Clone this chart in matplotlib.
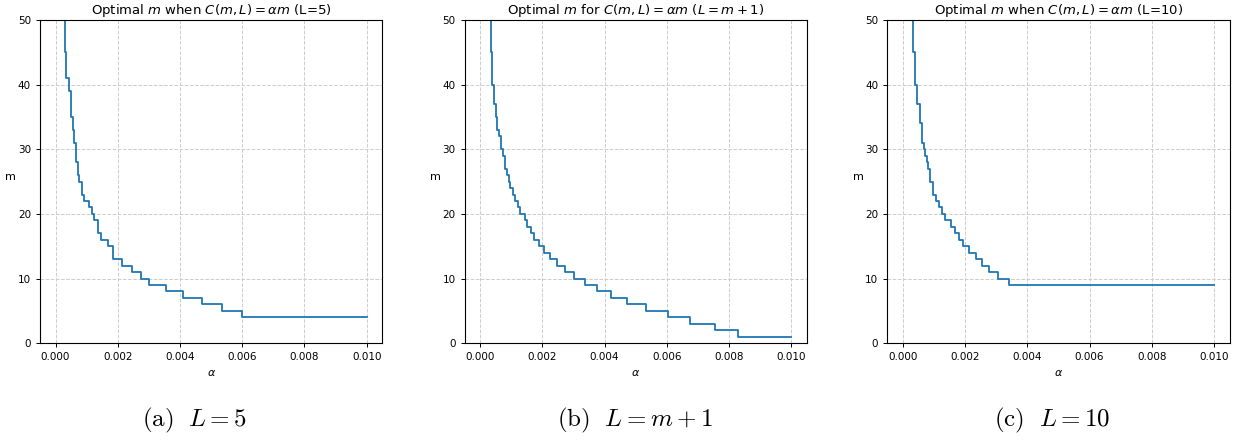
import numpy as np
import matplotlib
matplotlib.use('Agg')
import matplotlib.pyplot as plt

### step data: alpha where each level of m starts
alpha_a = [0.0, 0.00025, 0.00029, 0.00033, 0.00044, 0.00050, 0.00055, 0.00061, 0.00066, 0.00071,
           0.00076, 0.00085, 0.00093, 0.00108, 0.00117, 0.00125, 0.00136, 0.00146, 0.00168,
           0.00186, 0.00215, 0.00245, 0.00275, 0.00302, 0.00354, 0.00409, 0.00470, 0.00534, 0.00600]
m_a = [60, 50, 45, 41, 39, 35, 33, 31, 28, 26,
       25, 23, 22, 21, 20, 19, 17, 16, 15,
       13, 12, 11, 10, 9, 8, 7, 6, 5, 4]

alpha_b = [0.0, 0.00031, 0.00035, 0.00039, 0.00045, 0.00050, 0.00056, 0.00062, 0.00068, 0.00073,
           0.00080, 0.00086, 0.00092, 0.00097, 0.00105, 0.00113, 0.00121, 0.00129, 0.00143,
           0.00150, 0.00164, 0.00174, 0.00190, 0.00206, 0.00225, 0.00247, 0.00274, 0.00303,
           0.00336, 0.00376, 0.00422, 0.00472, 0.00534, 0.00604, 0.00674, 0.00756, 0.00829]
m_b = [60, 50, 45, 40, 37, 35, 33, 32, 30, 29,
       27, 26, 25, 24, 23, 22, 21, 20, 19,
       18, 17, 16, 15, 14, 13, 12, 11, 10,
       9, 8, 7, 6, 5, 4, 3, 2, 1]

alpha_c = [0.0, 0.00028, 0.00034, 0.00040, 0.00047, 0.00055, 0.00063, 0.00067, 0.00071, 0.00077,
           0.00082, 0.00088, 0.00096, 0.00108, 0.00117, 0.00126, 0.00136, 0.00154, 0.00169,
           0.00181, 0.00194, 0.00213, 0.00235, 0.00253, 0.00277, 0.00306, 0.00341]
m_c = [60, 50, 45, 40, 37, 34, 31, 30, 29, 28,
       27, 25, 23, 22, 21, 20, 19, 18, 17,
       16, 15, 14, 13, 12, 11, 10, 9]

alpha_end = 0.01

titles = [r'Optimal $m$ when $C(m,L) = \alpha m$ (L=5)',
          r'Optimal $m$ for $C(m,L) = \alpha m$ ($L = m + 1$)',
          r'Optimal $m$ when $C(m,L) = \alpha m$ (L=10)']
captions = [r'$\mathrm{(a)}\ \ L = 5$', r'$\mathrm{(b)}\ \ L = m + 1$', r'$\mathrm{(c)}\ \ L = 10$']
caption_x = [0.157, 0.512, 0.848]

plt.rcParams['mathtext.fontset'] = 'dejavusans'
fig = plt.figure(figsize=(12.41, 4.4), dpi=100)

lefts = [0.0322, 0.3743, 0.715]
series = [(alpha_a, m_a), (alpha_b, m_b), (alpha_c, m_c)]

for i, (al, mm) in enumerate(series):
    ax = fig.add_axes([lefts[i], 0.22, 0.2758, 0.7345])
    x = np.append(al, alpha_end)
    y = np.append(mm, mm[-1])
    ax.step(x, y, where='post', color='tab:blue', linewidth=1.3)
    ax.set_xlim(-0.0005, 0.0105)
    ax.set_ylim(0, 50)
    ax.set_xticks([0, 0.002, 0.004, 0.006, 0.008, 0.010])
    ax.set_xticklabels(['0.000', '0.002', '0.004', '0.006', '0.008', '0.010'])
    ax.tick_params(labelsize=7.5, length=3, width=0.7)
    ax.grid(True, linestyle='--', color='#cccccc', linewidth=0.7)
    ax.set_title(titles[i], fontsize=9.5, pad=4)
    ax.set_xlabel(r'$\alpha$', fontsize=8)
    ax.set_ylabel('m', fontsize=8, rotation=0, labelpad=5)
    for s in ax.spines.values():
        s.set_linewidth(0.8)

for i in range(3):
    fig.text(caption_x[i], 0.045, captions[i], ha='center', va='center',
             fontsize=18, math_fontfamily='cm')

fig.savefig('out.png', dpi=100)
